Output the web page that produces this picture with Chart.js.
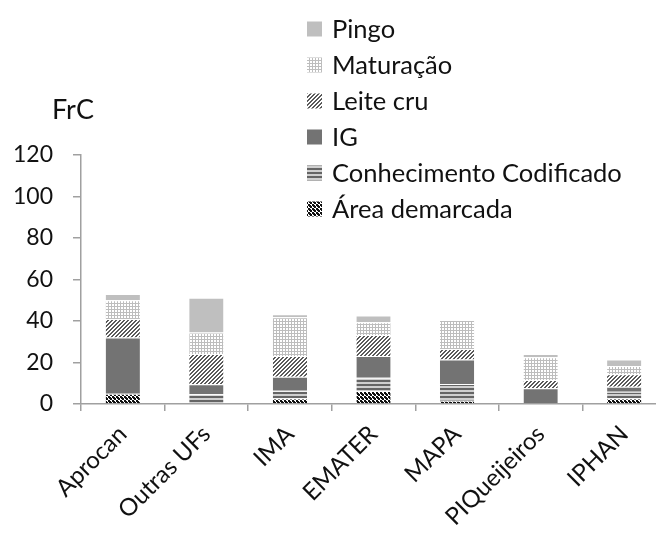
<!DOCTYPE html>
<html>
<head>
<meta charset="utf-8">
<script src="https://cdn.jsdelivr.net/npm/chart.js@4.4.1/dist/chart.umd.min.js"></script>
<style>
  html, body { margin: 0; padding: 0; background: #fff; overflow: hidden; }
  #wrap { width: 656px; height: 538px; overflow: hidden; position: relative; }
  canvas { display: block; }
</style>
</head>
<body>
<div id="wrap"><canvas id="c" width="670" height="538"></canvas></div>
<script>
const categories = ["Aprocan", "Outras UFs", "IMA", "EMATER", "MAPA", "PIQueijeiros", "IPHAN"];
const areaDemarcada = [5, 0, 2.7, 6.3, 1.6, 0, 2.7];
const conhecimento  = [0, 4.7, 3.7, 6.4, 8, 0, 3.2];
const ig            = [27, 4.8, 6.7, 10.4, 11.9, 7.6, 2.4];
const leiteCru      = [9, 14.6, 10, 10.2, 5, 4, 6];
const maturacao     = [9, 10.4, 18.7, 6.1, 14, 10.9, 4];
const pingo         = [3, 16.7, 1.4, 3.2, 0, 1.6, 3.2];
const yTicks = [0, 20, 40, 60, 80, 100, 120];
const yTitle = "FrC";

function makePattern(w, h, draw) {
  const c = document.createElement('canvas');
  c.width = w; c.height = h;
  const ctx = c.getContext('2d');
  draw(ctx);
  return document.getElementById('c').getContext('2d').createPattern(c, 'repeat');
}
const patMat = makePattern(3, 3, ctx => {
  ctx.fillStyle = '#ffffff'; ctx.fillRect(0, 0, 3, 3);
  ctx.fillStyle = '#bdbdbd'; ctx.fillRect(0, 0, 3, 1); ctx.fillRect(0, 0, 1, 3);
});
const patLeite = makePattern(4, 4, ctx => {
  ctx.fillStyle = '#ffffff'; ctx.fillRect(0, 0, 4, 4);
  ctx.fillStyle = '#5a5a5a';
  for (let i = 0; i < 4; i++) { ctx.fillRect(i, 3 - i, 1, 1); ctx.fillRect((i + 1) % 4, 3 - i, 1, 1); }
});
const patConh = makePattern(4, 4, ctx => {
  ctx.fillStyle = '#cfcfcf'; ctx.fillRect(0, 0, 4, 4);
  ctx.fillStyle = '#656565'; ctx.fillRect(0, 0, 4, 2);
});
const patArea = makePattern(4, 4, ctx => {
  ctx.fillStyle = '#ffffff'; ctx.fillRect(0, 0, 4, 4);
  ctx.fillStyle = '#111111';
  ctx.fillRect(0, 0, 2, 2); ctx.fillRect(2, 2, 2, 2); ctx.fillRect(1, 1, 2, 2);
});

const seriesDefs = [
  { label: "Área demarcada", data: areaDemarcada, bg: patArea },
  { label: "Conhecimento Codificado", data: conhecimento, bg: patConh },
  { label: "IG", data: ig, bg: '#737373' },
  { label: "Leite cru", data: leiteCru, bg: patLeite },
  { label: "Maturação", data: maturacao, bg: patMat },
  { label: "Pingo", data: pingo, bg: '#bfbfbf' }
];

const FONT = 'Lato, "Open Sans", sans-serif';

const overlayPlugin = {
  id: 'overlay',
  afterDraw(chart) {
    const ctx = chart.ctx;
    ctx.save();
    ctx.fillStyle = '#111';
    ctx.font = '27px ' + FONT;
    ctx.textAlign = 'left';
    ctx.textBaseline = 'alphabetic';
    ctx.fillText(yTitle, 52, 119);
    // legend (top-most series first)
    const ds = chart.data.datasets.slice().reverse();
    ctx.font = '25.5px ' + FONT;
    ctx.textBaseline = 'middle';
    ds.forEach((d, i) => {
      const cy = 28.5 + i * 36;
      ctx.fillStyle = d.backgroundColor;
      ctx.fillRect(307, cy - 7, 15, 15);
      ctx.fillStyle = '#111';
      ctx.fillText(d.label, 332, cy + 1);
    });
    ctx.restore();
  }
};

new Chart(document.getElementById('c'), {
  type: 'bar',
  data: {
    labels: categories,
    datasets: seriesDefs.map(s => ({
      label: s.label,
      data: s.data,
      backgroundColor: s.bg,
      borderColor: '#ffffff',
      borderWidth: { top: 1, left: 0, right: 0, bottom: 0 },
      borderSkipped: false,
      barPercentage: 0.41,
      categoryPercentage: 1.0
    }))
  },
  options: {
    responsive: false,
    animation: false,
    devicePixelRatio: 1,
    layout: { padding: { top: 155, right: 4, left: 0, bottom: 0 } },
    plugins: { legend: { display: false }, tooltip: { enabled: false } },
    scales: {
      x: {
        stacked: true,
        grid: { display: true, drawOnChartArea: false, drawTicks: true, tickLength: 7, color: '#a0a0a0', lineWidth: 1.5, offset: true },
        border: { display: true, color: '#a0a0a0', width: 1.5 },
        ticks: { color: '#111', font: { family: FONT, size: 24 }, maxRotation: 45, minRotation: 45, padding: 9, autoSkip: false },
        afterFit(scale) { scale.height = 134; }
      },
      y: {
        stacked: true,
        min: 0, max: 120,
        afterBuildTicks(scale) { scale.ticks = yTicks.map(v => ({ value: v })); },
        grid: { display: true, drawOnChartArea: false, drawTicks: true, tickLength: 8, color: '#a0a0a0', lineWidth: 1.5 },
        border: { display: true, color: '#a0a0a0', width: 1.5 },
        ticks: { color: '#111', font: { family: FONT, size: 23 }, padding: 20 },
        afterFit(scale) { scale.width = 81; }
      }
    }
  },
  plugins: [overlayPlugin]
});
</script>
</body>
</html>
